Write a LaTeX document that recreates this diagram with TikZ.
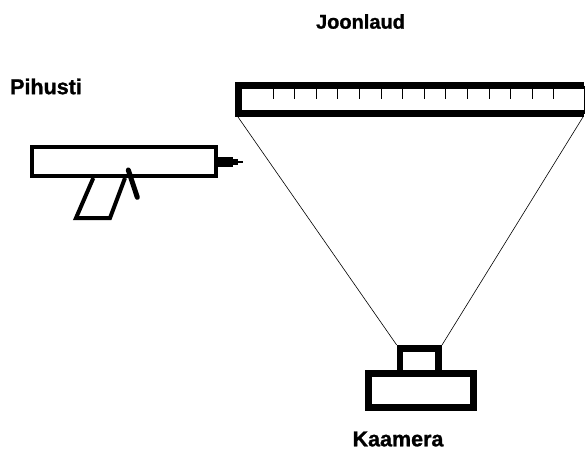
\documentclass[tikz,border=0pt]{standalone}
\usepackage{fontspec}
\setmainfont{Liberation Sans}[BoldFeatures={FakeBold=1.2}]
\usepackage{tikz}

\begin{document}
\begin{tikzpicture}[x=1pt,y=-1pt,line join=miter]
    \tikzstyle{caption}=[font=\bfseries\fontsize{20}{20}\selectfont, inner sep=0pt]
    \tikzstyle{gunline}=[line width=4pt]
    \tikzstyle{camline}=[line width=6.5pt]
    \tikzstyle{ray}=[line width=0.6pt]

    \useasboundingbox (0,0) rectangle (585,450);

    \node[caption] (joonlaud) at (360.5, 21.5) {Joonlaud};
    \node[caption, font=\bfseries\fontsize{21.5}{21.5}\selectfont] (pihusti) at (46, 86.5) {Pihusti};
    \node[caption, font=\bfseries\fontsize{21.5}{21.5}\selectfont] (kaamera) at (398, 439) {Kaamera};

    \coordinate (RNW) at (238.5, 85.5);
    \coordinate (RSW) at (238.5, 113.5);
    \coordinate (RNE) at (584, 85.5);
    \coordinate (RSE) at (584, 113.5);
    \draw[camline] (RNE) -- (RNW) -- (RSW) -- (RSE);
    \draw[line width=1pt] (RNE) -- (RSE);
    \foreach \i in {0,...,13}
        \draw[line width=1pt] (273 + \i*21.6, 89) -- (273 + \i*21.6, 99);

    \draw[camline] (368.3, 373.3) rectangle (473.3, 407.3);
    \draw[camline] (400, 348.3) rectangle (438.7, 373.3);
    \coordinate (LNW) at (396.7, 345);
    \coordinate (LNE) at (442, 345);
    \coordinate (RBL) at (238, 117);
    \coordinate (RBR) at (583, 117);
    \draw[ray] (RBL) -- (LNW);
    \draw[ray] (RBR) -- (LNE);

    \draw[gunline] (32, 147) rectangle (216, 176);
    \fill (218, 157) rectangle (233, 167);
    \fill (233, 159) rectangle (238, 165);
    \draw[line width=1.5pt] (238, 162) -- (243, 162);
    \draw[gunline] (93.3, 178) -- (76, 218) -- (110, 218) -- (125, 178);
    \draw[line width=5pt, line cap=round] (128.3, 170) -- (137.3, 197.3);
\end{tikzpicture}
\end{document}
